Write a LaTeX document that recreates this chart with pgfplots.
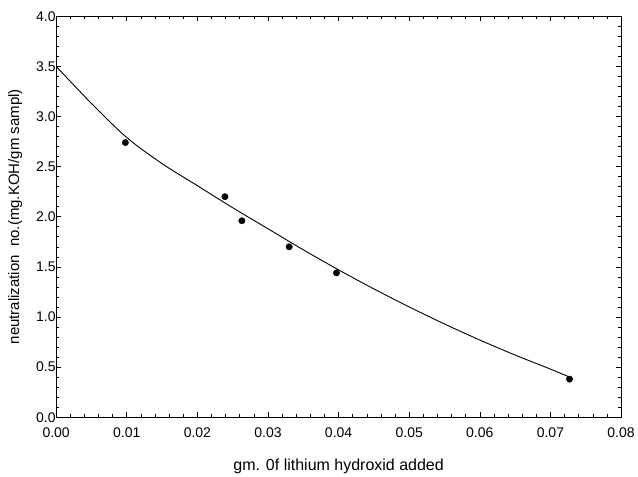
\documentclass[border=0pt]{standalone}
\usepackage{pgfplots}
\pgfplotsset{compat=1.18}
\usepackage{fontspec}
\setmainfont{Liberation Sans}
\begin{document}
\begin{tikzpicture}
\begin{axis}[
    scale only axis,
    width=565pt, height=401pt,
    xmin=0, xmax=0.08, ymin=0, ymax=4.0,
    xtick={0,0.01,...,0.08},
    ytick={0,0.5,...,4.0},
    minor x tick num=4,
    minor y tick num=4,
    tick align=inside,
    major tick length=5pt,
    minor tick length=3pt,
    xticklabel={\pgfmathprintnumber[fixed,fixed zerofill,precision=2]{\tick}},
    yticklabel={\pgfmathprintnumber[fixed,fixed zerofill,precision=1]{\tick}},
    /pgf/number format/assume math mode=true,
    scaled x ticks=false,
    ticklabel style={font=\fontsize{14}{16}\selectfont},
    yticklabel style={xshift=3pt},
    xticklabel style={yshift=-7pt},
    xlabel={gm. 0f lithium hydroxid added},
    ylabel={neutralization\ \ no.(mg.KOH/gm sampl)},
    xlabel style={font=\fontsize{16}{18}\selectfont, yshift=-14pt},
    ylabel style={font=\fontsize{15}{17}\selectfont, yshift=7pt},
    axis line style={line width=1.1pt},
    every tick/.style={black, line width=0.6pt},
]
% fitted curve
\addplot[black, line width=0.9pt, smooth] coordinates {
  (0.000,3.50) (0.005,3.13) (0.010,2.79) (0.015,2.53) (0.020,2.31)
  (0.025,2.09) (0.030,1.88) (0.035,1.67) (0.040,1.47) (0.045,1.28)
  (0.050,1.10) (0.055,0.93) (0.060,0.77) (0.065,0.62) (0.070,0.48)
  (0.0727,0.40)
};
% measured points
\addplot[only marks, mark=*, mark size=3.2pt, black] coordinates {
  (0.0098,2.74) (0.0239,2.20) (0.0263,1.96) (0.0330,1.70)
  (0.0397,1.44) (0.0727,0.38)
};
\end{axis}
\path ([yshift=8pt]current bounding box.north);
\path ([xshift=-5pt]current bounding box.west);
\end{tikzpicture}
\end{document}
